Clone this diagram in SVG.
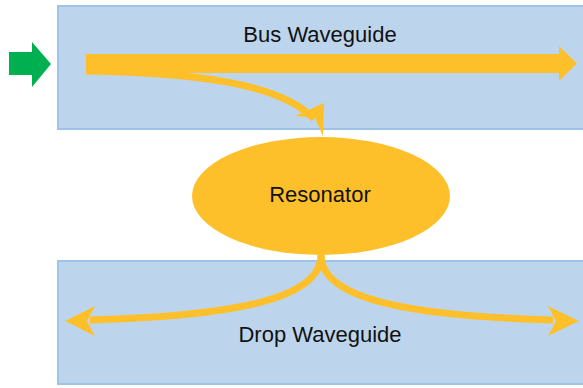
<svg xmlns="http://www.w3.org/2000/svg" width="583" height="388" viewBox="0 0 583 388">
<style>
.wg{fill:#bdd5ec;stroke:#9dc3e6;stroke-width:2}
.flow{fill:none;stroke:#fec02a;stroke-width:7}
.head{fill:#fec02a}
.lbl{font-family:"Liberation Sans",Arial,sans-serif;font-size:22px;fill:#111;text-anchor:middle}
</style>
<g id="bus">
<rect class="wg" x="58" y="6" width="540" height="123"/>
<text class="lbl" x="320" y="42">Bus Waveguide</text>
</g>
<g id="drop">
<rect class="wg" x="58" y="261" width="540" height="123"/>
<text class="lbl" x="320" y="342">Drop Waveguide</text>
</g>
<g id="resonator">
<ellipse cx="321" cy="196" rx="129" ry="59" fill="#fec02a"/>
<text class="lbl" x="320" y="202">Resonator</text>
</g>
<g id="input">
<polygon points="9,52 32,52 32,42 51,64 32,87 32,75 9,75" fill="#00b050"/>
</g>
<g id="connectors">
<polygon class="head" points="86,54 559,54 559,46 577,63.5 559,81 559,73 86,73"/>
<path class="flow" d="M86,71 C190,73 280,82 314,119"/>
<polygon class="head" points="323,136 315,118 295,116 324,103"/>
<path class="flow" d="M321,255 C321,300 230,316 90,320"/>
<polygon class="head" points="65,321 95,306 87,321 95,336"/>
<path class="flow" d="M321,255 C321,300 412,316 553,320"/>
<polygon class="head" points="579,321 548,306 556,321 548,336"/>
</g>
</svg>
